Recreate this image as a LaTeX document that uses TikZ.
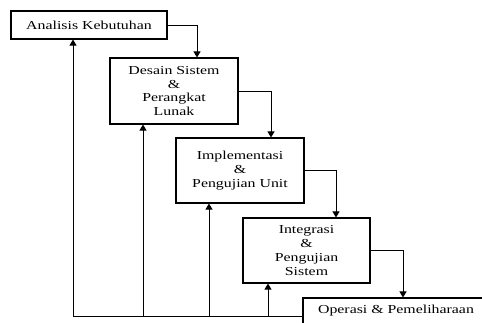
\documentclass[tikz,border=0pt]{standalone}
\usepackage{fontspec}
\setmainfont{Liberation Serif}[FakeStretch=1.3]
\usetikzlibrary{positioning, arrows.meta, calc}

\begin{document}
\begin{tikzpicture}[
    x=1pt, y=-1pt,
    >={Triangle[width=7pt,length=6pt]},
    every node/.style = {font=\fontsize{12.2}{13.7}\selectfont},
    phase/.style      = {rectangle, draw, line width=1.1pt, align=center, inner sep=2pt},
    line/.style       = {->, line width=1pt}
]
\clip (0,0) rectangle (482,322);

% Phases of the waterfall
\node[phase, minimum width=156, minimum height=28] (analisis) at (89,25) {Analisis Kebutuhan};
\node[phase, minimum width=128, minimum height=66] (desain) at (174,91)
     {Desain Sistem\\\&\\Perangkat\\Lunak};
\node[phase, minimum width=128, minimum height=65] (implementasi) at (240,170.5)
     {Implementasi\\\&\\Pengujian Unit};
\node[phase, minimum width=127, minimum height=65] (integrasi) at (306.5,250.5)
     {Integrasi\\\&\\Pengujian\\Sistem};
\node[phase, minimum width=186, minimum height=26] (operasi) at (396,311) {Operasi \& Pemeliharaan};

% Step down to the next phase
\draw[line] (analisis.east) -| ([xshift=23]desain.north);
\draw[line] (desain.east) -| ([xshift=31]implementasi.north);
\draw[line] (implementasi.east) -| ([xshift=29.5]integrasi.north);
\draw[line] (integrasi.east) -| ([xshift=7]operasi.north);

% Feedback bus back to every phase
\coordinate (tapA) at (73,316);
\coordinate (tapB) at (143,316);
\coordinate (tapC) at (209,316);
\coordinate (tapD) at (268,316);
\draw[line width=1pt] (tapA -| operasi.west) -- (tapA);
\draw[line] (tapA) -- (tapA |- analisis.south);
\draw[line] (tapB) -- (tapB |- desain.south);
\draw[line] (tapC) -- (tapC |- implementasi.south);
\draw[line] (tapD) -- (tapD |- integrasi.south);

\end{tikzpicture}
\end{document}
